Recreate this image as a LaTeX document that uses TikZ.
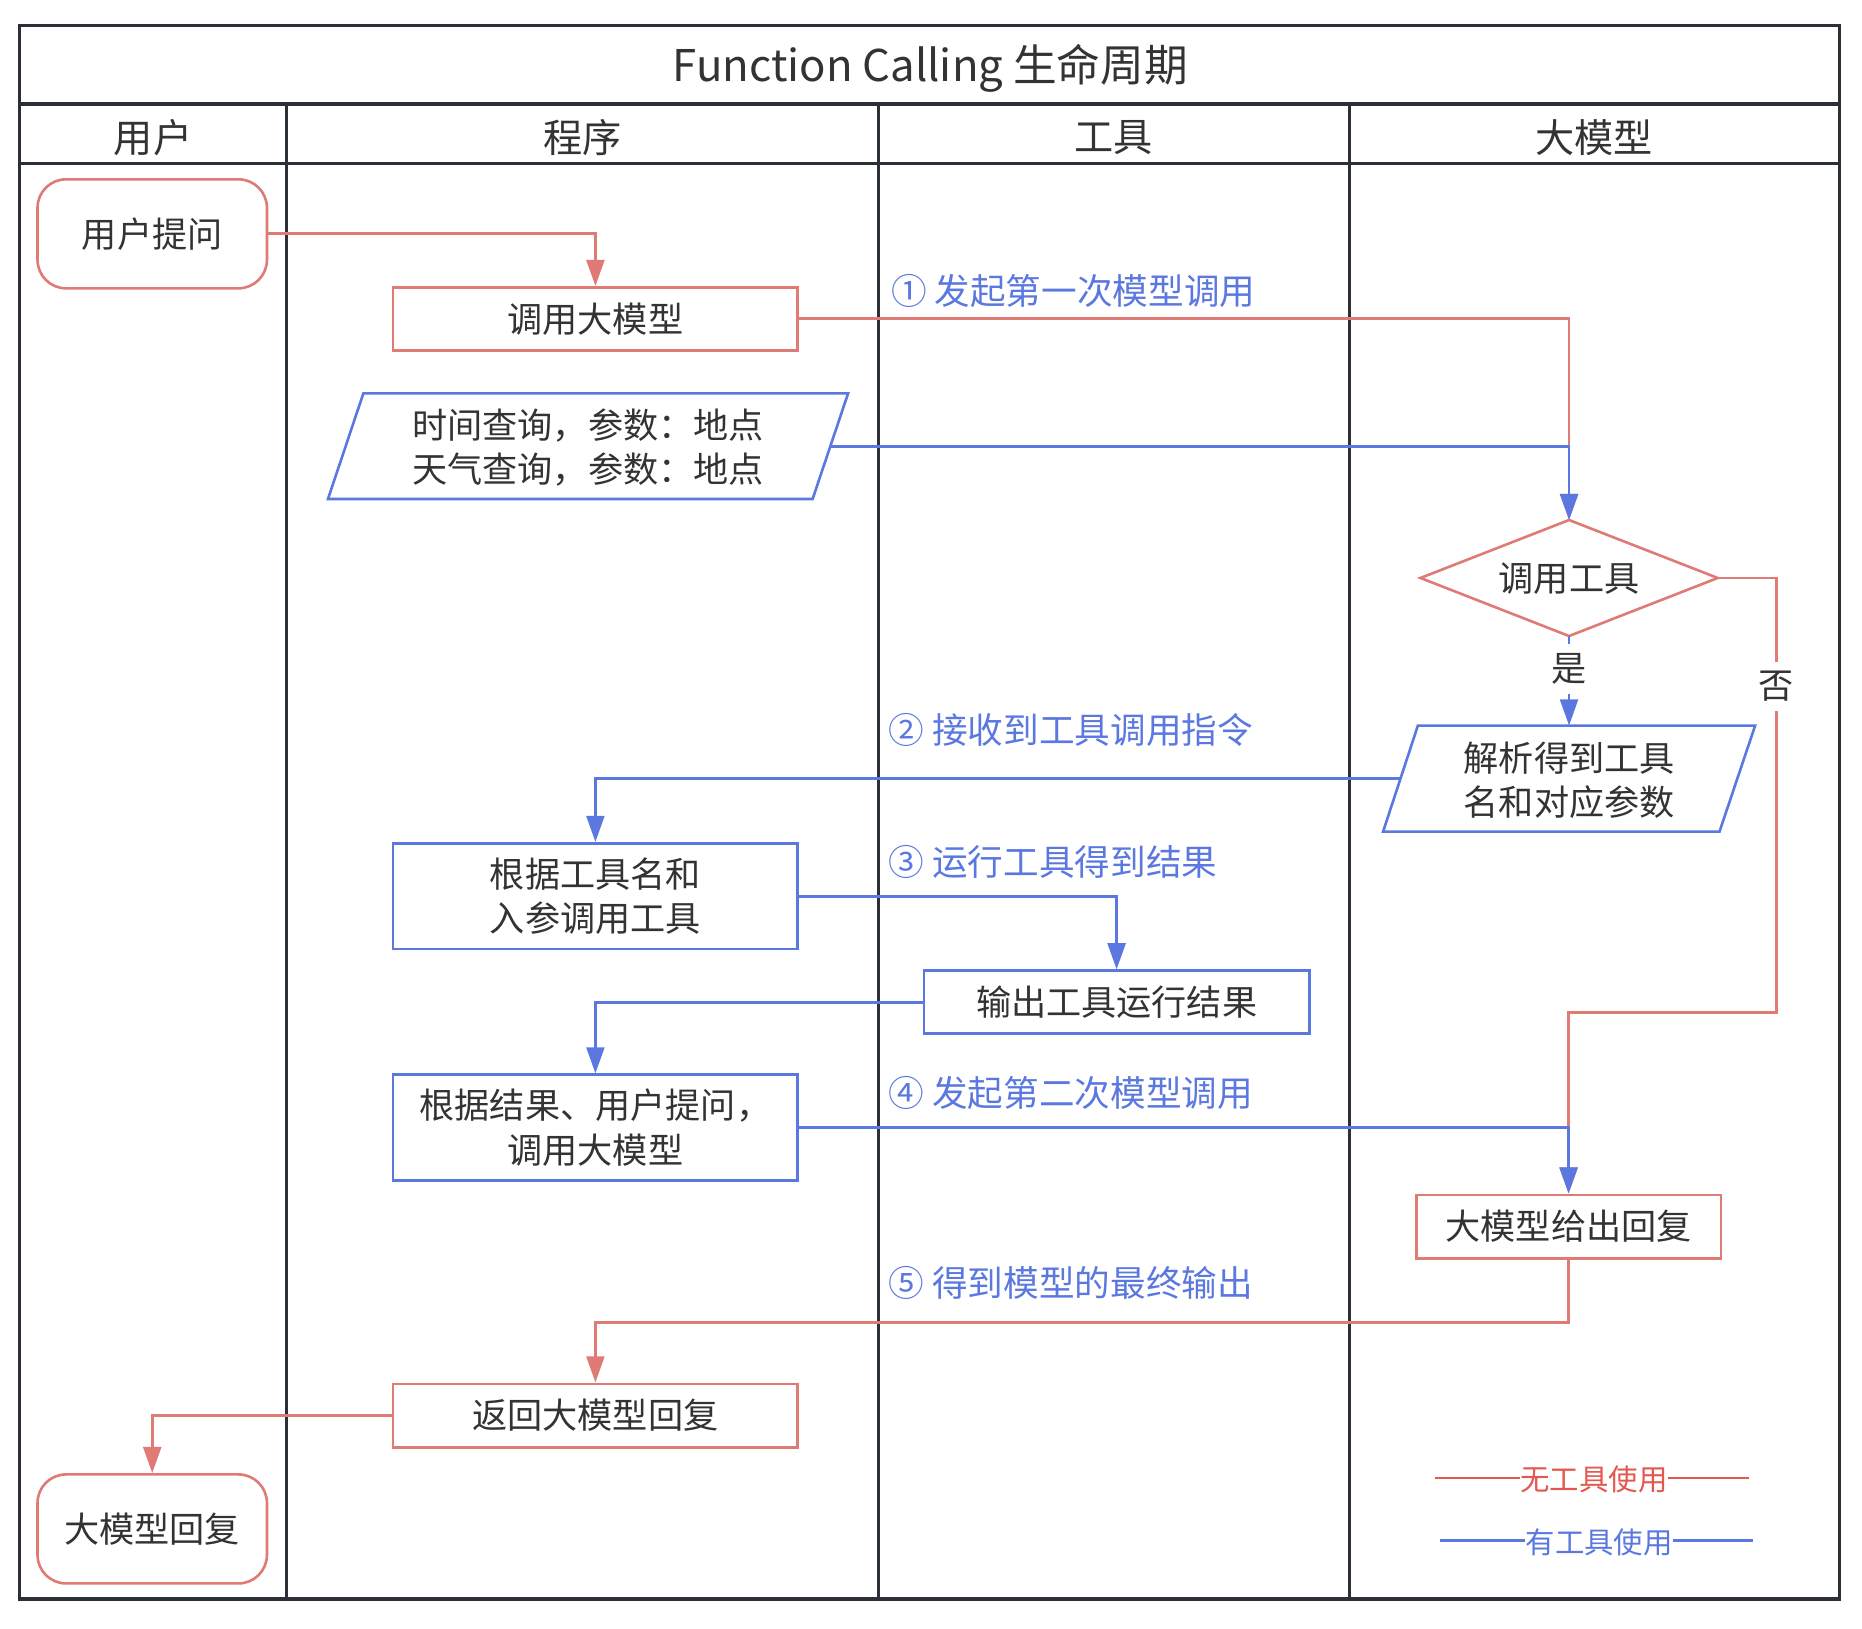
\documentclass[tikz,border=0pt]{standalone}
\usepackage{fontspec}
\setmainfont{Noto Sans CJK SC}
\usetikzlibrary{arrows.meta,shapes.geometric}
\definecolor{lanec}{HTML}{2B2F36}
\definecolor{rl}{HTML}{E07A74}
\definecolor{bl}{HTML}{5B78E0}
\definecolor{tx}{HTML}{333333}
\definecolor{legred}{HTML}{E3584F}
\definecolor{legblue}{HTML}{5B78E0}
\tikzset{
  lane/.style={draw=lanec, line width=1.3pt},
  txt/.style={text=tx, font=\fontsize{14.8pt}{18.8pt}\selectfont, align=center, inner sep=0pt},
  rbox/.style={txt, draw=rl, line width=1.1pt, rectangle, minimum width=170.4pt},
  bbox/.style={txt, draw=bl, line width=1.1pt, rectangle, minimum width=170.4pt},
  term/.style={txt, draw=rl, line width=1.1pt, rounded corners=12pt, minimum width=96.6pt, minimum height=45.9pt},
  rline/.style={draw=rl, line width=1.2pt},
  bline/.style={draw=bl, line width=1.2pt},
  arr/.style={-{Triangle[length=11pt,width=7.5pt]}},
  steplbl/.style={text=bl, font=\fontsize{15pt}{18pt}\selectfont, anchor=west, inner sep=0pt},
  yn/.style={txt, fill=white, inner sep=4pt},
  head/.style={text=tx, font=\fontsize{16.5pt}{18pt}\selectfont, inner sep=0pt},
  legtxt/.style={font=\fontsize{12.4pt}{14pt}\selectfont, inner sep=0pt, fill=white},
}
\begin{document}
\begin{tikzpicture}[x=0.5pt,y=-0.5pt]
\useasboundingbox (0,0) rectangle (1568,1371);
% swimlanes
\draw[lane] (16.5,21.6) rectangle (1549.1,1346.5);
\draw[lane] (16.5,87.6) -- (1549.1,87.6);
\draw[lane] (16.5,137.5) -- (1549.1,137.5);
\draw[lane] (241.3,87.6) -- (241.3,1346.5);
\draw[lane] (739.7,87.6) -- (739.7,1346.5);
\draw[lane] (1136.1,87.6) -- (1136.1,1346.5);
\node[text=tx, font=\fontsize{18.4pt}{20pt}\selectfont, inner sep=0pt] (title) at (783.5,57.5) {Function Calling 生命周期};
\node[head] (h1) at (128.9,116) {用户};
\node[head] (h2) at (490.5,116) {程序};
\node[head] (h3) at (937.9,116) {工具};
\node[head] (h4) at (1342.6,116) {大模型};

% nodes
\node[term] (ask) at (128.2,196.9) {用户提问};
\node[rbox, minimum height=26.5pt] (call1) at (501.4,268.5) {调用大模型};
\draw[bline, line width=1.1pt] (306,331.2) -- (714.2,331.2) -- (684.3,420.2) -- (276.2,420.2) -- cycle;
\node[txt] (tools) at (495.2,377) {时间查询，参数：地点\\天气查询，参数：地点};
\coordinate (toolsE) at (699.2,375.7);
\draw[rline, line width=1.1pt] (1196.2,486.7) -- (1321.3,437.9) -- (1446.5,486.7) -- (1321.3,535.6) -- cycle;
\node[txt] (dec) at (1321.3,487.5) {调用工具};
\coordinate (decN) at (1321.3,437.9);
\coordinate (decS) at (1321.3,535.6);
\coordinate (decE) at (1446.5,486.7);
\draw[bline, line width=1.1pt] (1194,611) -- (1478,611) -- (1448,700.3) -- (1164.7,700.3) -- cycle;
\node[txt] (parse) at (1321.4,657) {解析得到工具\\名和对应参数};
\coordinate (parseN) at (1321.3,611);
\coordinate (parseW) at (1179.4,655.6);
\node[bbox, minimum height=44.6pt] (call2) at (501.4,754.7) {根据工具名和\\入参调用工具};
\node[bbox, minimum width=162.3pt, minimum height=26.5pt] (out) at (940.3,843.9) {输出工具运行结果};
\node[bbox, minimum height=44.6pt] (res) at (501.4,949.6) {根据结果、用户提问，\\调用大模型};
\node[rbox, minimum width=128.2pt, minimum height=26.7pt] (reply) at (1320.9,1032.9) {大模型给出回复};
\node[rbox, minimum height=26.7pt] (ret) at (501.4,1192) {返回大模型回复};
\node[term] (final) at (128.2,1287.5) {大模型回复};

% red connectors
\draw[rline, arr] (ask.east) -| (call1.north);
\draw[rline, arr] (call1.east) -| (decN);
\draw[rline, arr] (decE) -| (1496,852.4) -| (reply.north);
\draw[rline, arr] (reply.south) -- ++(0,53.1) -| (ret.north);
\draw[rline, arr] (ret.west) -| (final.north);
% blue connectors
\draw[bline, arr] (toolsE) -| (decN);
\draw[bline, arr] (decS) -- (parseN);
\draw[bline, arr] (parseW) -| (call2.north);
\draw[bline, arr] (call2.east) -| (out.north);
\draw[bline, arr] (out.west) -| (res.north);
\draw[bline, arr] (res.east) -| (reply.north);

\node[yn] (yes) at (1321.3,563.5) {是};
\node[yn] (no) at (1496,578) {否};

% step labels
\node[steplbl] (s1) at (750,245) {① 发起第一次模型调用};
\node[steplbl] (s2) at (748,615) {② 接收到工具调用指令};
\node[steplbl] (s3) at (748,726) {③ 运行工具得到结果};
\node[steplbl] (s4) at (748,920) {④ 发起第二次模型调用};
\node[steplbl] (s5) at (748,1080) {⑤ 得到模型的最终输出};

% legend
\node[legtxt, text=legred] (leg1) at (1342.2,1246) {无工具使用};
\coordinate (l1a) at (1208.7,1244.5);
\coordinate (l1b) at (1473.1,1244.5);
\draw[draw=legred, line width=1.1pt] (l1a) -- (l1a -| leg1.west);
\draw[draw=legred, line width=1.1pt] (l1b -| leg1.east) -- (l1b);
\node[legtxt, text=legblue] (leg2) at (1346.7,1299) {有工具使用};
\coordinate (l2a) at (1213,1297.5);
\coordinate (l2b) at (1476.6,1297.5);
\draw[draw=legblue, line width=1.1pt] (l2a) -- (l2a -| leg2.west);
\draw[draw=legblue, line width=1.1pt] (l2b -| leg2.east) -- (l2b);
\end{tikzpicture}
\end{document}
